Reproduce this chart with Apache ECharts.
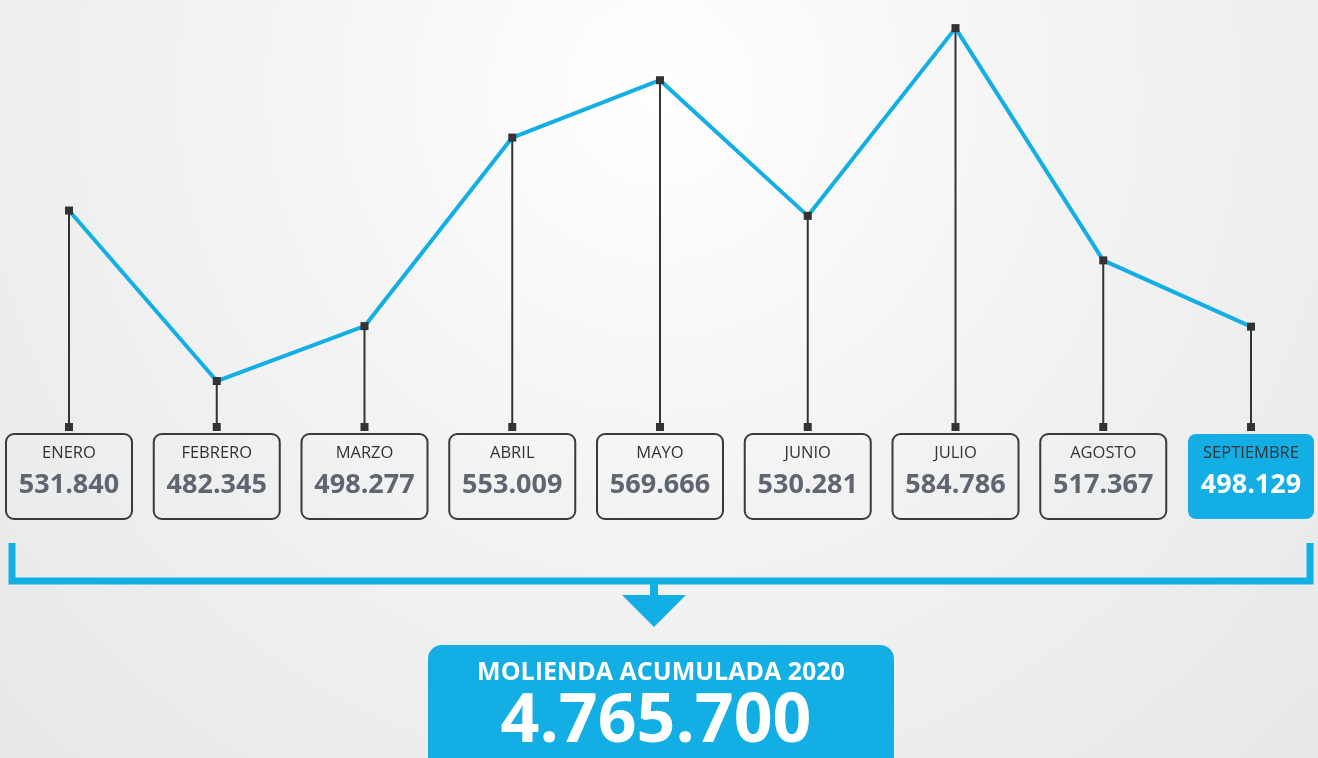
<!DOCTYPE html>
<html>
<head>
<meta charset="utf-8">
<script src="https://cdn.jsdelivr.net/npm/echarts@6/dist/echarts.min.js"></script>
<style>
  html, body { margin: 0; padding: 0; }
  body { background: radial-gradient(ellipse at 50% 12%, #ffffff 0%, #f3f3f3 45%, #e7e8e9 100%); }
  #main { width: 1318px; height: 758px; }
</style>
</head>
<body>
<div id="main"></div>
<script>
// meses y molienda mensual (toneladas)
var meses = ['ENERO', 'FEBRERO', 'MARZO', 'ABRIL', 'MAYO', 'JUNIO', 'JULIO', 'AGOSTO', 'SEPTIEMBRE'];
var molienda = [531840, 482345, 498277, 553009, 569666, 530281, 584786, 517367, 498129];
var titulo = 'MOLIENDA ACUMULADA 2020';

var azul = '#13aee4';
var yMin = 469000;
var yMax = 591500;

var formato = function(n) {
  return String(n).replace(/\B(?=(\d{3})+(?!\d))/g, '.');
};

var total = 0;
for (var i = 0; i < molienda.length; i++) {
  total += molienda[i];
}

var myChart = echarts.init(document.getElementById('main'), null, { renderer: 'canvas' });

var cajas = [];
for (var i = 0; i < meses.length; i++) {
  cajas.push([i, molienda[i]]);
}

var option = {
  backgroundColor: 'transparent',
  animation: false,
  grid: { left: 69, right: 67, top: 5, bottom: 331 },
  xAxis: {
    type: 'category',
    data: meses,
    boundaryGap: false,
    show: false
  },
  yAxis: {
    type: 'value',
    min: yMin,
    max: yMax,
    show: false
  },
  series: [{
    type: 'custom',
    z: 1,
    clip: false,
    data: cajas,
    renderItem: function(params, api) {
      var i = api.value(0);
      var top = api.coord([i, api.value(1)]);
      var base = api.coord([i, yMin]);
      var ultimo = i === meses.length - 1;
      var bx = base[0] - 63;
      var by = base[1] + 7;
      return {
        type: 'group',
        children: [{
          type: 'line',
          shape: { x1: top[0], y1: top[1], x2: base[0], y2: base[1] },
          style: { stroke: '#333333', lineWidth: 2 }
        }, {
          type: 'rect',
          shape: { x: base[0] - 4, y: base[1] - 4, width: 8, height: 8 },
          style: { fill: '#333333' }
        }, {
          type: 'rect',
          shape: { x: bx, y: by, width: 126, height: 85, r: 8 },
          style: ultimo ? { fill: azul } : { fill: 'rgba(255,255,255,0)', stroke: '#3a3a3a', lineWidth: 2 }
        }, {
          type: 'text',
          style: {
            x: base[0], y: by + 19,
            text: meses[i],
            fill: '#333333',
            font: '16.5px "Open Sans", sans-serif',
            align: 'center', verticalAlign: 'middle'
          }
        }, {
          type: 'text',
          style: {
            x: base[0], y: by + 51,
            text: formato(molienda[i]),
            fill: ultimo ? '#ffffff' : '#5f6670',
            font: 'bold 27px "Open Sans", sans-serif',
            align: 'center', verticalAlign: 'middle'
          }
        }]
      };
    }
  }, {
    type: 'line',
    z: 3,
    data: molienda,
    symbol: 'rect',
    symbolSize: 8,
    itemStyle: { color: '#333333' },
    lineStyle: { color: azul, width: 4 }
  }],
  graphic: [{
    type: 'polyline',
    shape: { points: [[12, 543], [12, 581], [1310, 581], [1310, 543]] },
    style: { stroke: azul, lineWidth: 7, fill: null }
  }, {
    type: 'rect',
    shape: { x: 650, y: 581, width: 8, height: 15 },
    style: { fill: azul }
  }, {
    type: 'polygon',
    shape: { points: [[622, 595], [686, 595], [654, 627]] },
    style: { fill: azul }
  }, {
    type: 'rect',
    shape: { x: 428, y: 645, width: 466, height: 140, r: 14 },
    style: { fill: azul }
  }, {
    type: 'text',
    style: {
      x: 661, y: 673,
      text: titulo,
      fill: '#ffffff',
      font: 'bold 25px "Open Sans", sans-serif',
      align: 'center', verticalAlign: 'middle'
    }
  }, {
    type: 'text',
    style: {
      x: 656, y: 723,
      text: formato(total),
      fill: '#ffffff',
      font: 'bold 68px "Open Sans", sans-serif',
      align: 'center', verticalAlign: 'middle'
    }
  }]
};

myChart.setOption(option);
</script>
</body>
</html>
